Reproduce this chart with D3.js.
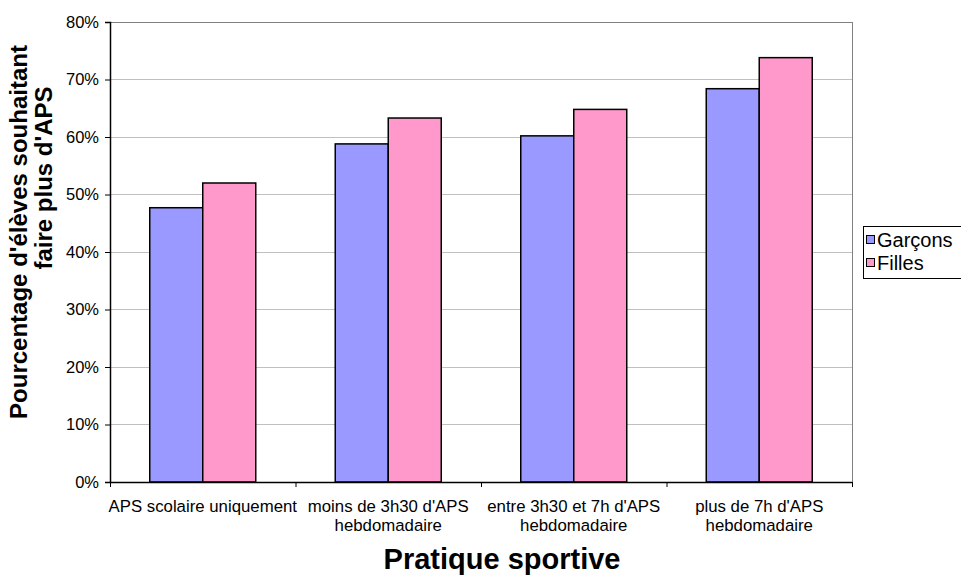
<!DOCTYPE html>
<html><head><meta charset="utf-8">
<script src="https://cdn.jsdelivr.net/npm/d3@7"></script>
<style>body{margin:0;background:#fff}svg{display:block;font-family:"Liberation Sans",Arial,sans-serif}</style>
</head><body>
<svg id="c" width="961" height="576"></svg>
<script>
const categories = [["APS scolaire uniquement"],["moins de 3h30 d'APS","hebdomadaire"],["entre 3h30 et 7h d'APS","hebdomadaire"],["plus de 7h d'APS","hebdomadaire"]];
const seriesNames = ["Garçons","Filles"];
const garcons = [47.7, 58.8, 60.2, 68.4];
const filles = [52.0, 63.3, 64.8, 73.8];
const yTicks = [0,10,20,30,40,50,60,70,80];
const colors = ["#9999FF","#FF99CC"];

const svg = d3.select("#c");
const L=110, R=852, T=22, B=482;
const x = d3.scaleBand().domain(d3.range(categories.length)).range([L,R]).paddingInner(0).paddingOuter(0);
const bw = x.bandwidth()/3.5;
const x1 = d3.scaleBand().domain([0,1]).range([0.75*bw, 2.75*bw]);
const y = d3.scaleLinear().domain([0,80]).range([B,T]);

// gridlines
svg.append("g").selectAll("line").data(yTicks.filter(d=>d>0)).join("line")
  .attr("x1",L).attr("x2",R).attr("y1",d=>y(d)).attr("y2",d=>y(d))
  .attr("stroke",d=>d===80?"#808080":"#c0c0c0").attr("stroke-width",1).attr("shape-rendering","crispEdges");
svg.append("line").attr("x1",R).attr("x2",R).attr("y1",T).attr("y2",B).attr("stroke","#808080").attr("shape-rendering","crispEdges");

// bars
const series=[garcons,filles];
series.forEach((vals,si)=>{
  svg.append("g").selectAll("rect").data(vals).join("rect")
    .attr("x",(d,i)=>x(i)+x1(si)).attr("width",x1.bandwidth())
    .attr("y",d=>y(d)).attr("height",d=>B-y(d))
    .attr("fill",colors[si]).attr("stroke","#000").attr("stroke-width",1.5);
});

// y axis
const ya = svg.append("g").attr("transform",`translate(${L},0)`)
  .call(d3.axisLeft(y).tickValues(yTicks).tickFormat(d=>d+"%").tickSize(5).tickPadding(6));
ya.select(".domain").attr("stroke","#000").attr("stroke-width",1.5);
ya.selectAll("text").attr("font-size",16.5).attr("fill","#000").attr("font-family","Liberation Sans, Arial");
ya.selectAll(".tick line").attr("stroke","#000");

// x axis
const xb = d3.scaleLinear().domain([0,categories.length]).range([L,R]);
const xa = svg.append("g").attr("transform",`translate(0,${B})`)
  .call(d3.axisBottom(xb).tickValues(d3.range(categories.length+1)).tickFormat("").tickSize(5).tickSizeOuter(0));
xa.select(".domain").attr("stroke","#000").attr("stroke-width",1.5);
xa.selectAll(".tick line").attr("stroke","#000");

const lab = svg.append("g").attr("font-size",16.8).attr("text-anchor","middle").attr("fill","#000");
categories.forEach((lines,i)=>{
  const t = lab.append("text").attr("x",x(i)+x.bandwidth()/2).attr("y",512);
  lines.forEach((s,k)=>t.append("tspan").attr("x",x(i)+x.bandwidth()/2).attr("dy",k?19:0).text(s));
});

// axis titles
svg.append("text").attr("x",502).attr("y",569).attr("text-anchor","middle")
  .attr("font-size",29).attr("font-weight","bold").text("Pratique sportive");
svg.append("text").attr("transform","translate(27,232) rotate(-90)").attr("text-anchor","middle")
  .attr("font-size",24).attr("font-weight","bold").text("Pourcentage d'élèves souhaitant");
svg.append("text").attr("transform","translate(52,178) rotate(-90)").attr("text-anchor","middle")
  .attr("font-size",24).attr("font-weight","bold").text("faire plus d'APS");

// legend
const lg = svg.append("g");
lg.append("rect").attr("x",863.5).attr("y",226.5).attr("width",100).attr("height",52).attr("fill","#fff").attr("stroke","#000");
seriesNames.forEach((n,i)=>{
  lg.append("rect").attr("x",866.5).attr("y",235.5+i*23).attr("width",8).attr("height",8)
    .attr("fill",colors[i]).attr("stroke","#000");
  lg.append("text").attr("x",877).attr("y",247+i*23).attr("font-size",20).text(n);
});
</script>
</body></html>
